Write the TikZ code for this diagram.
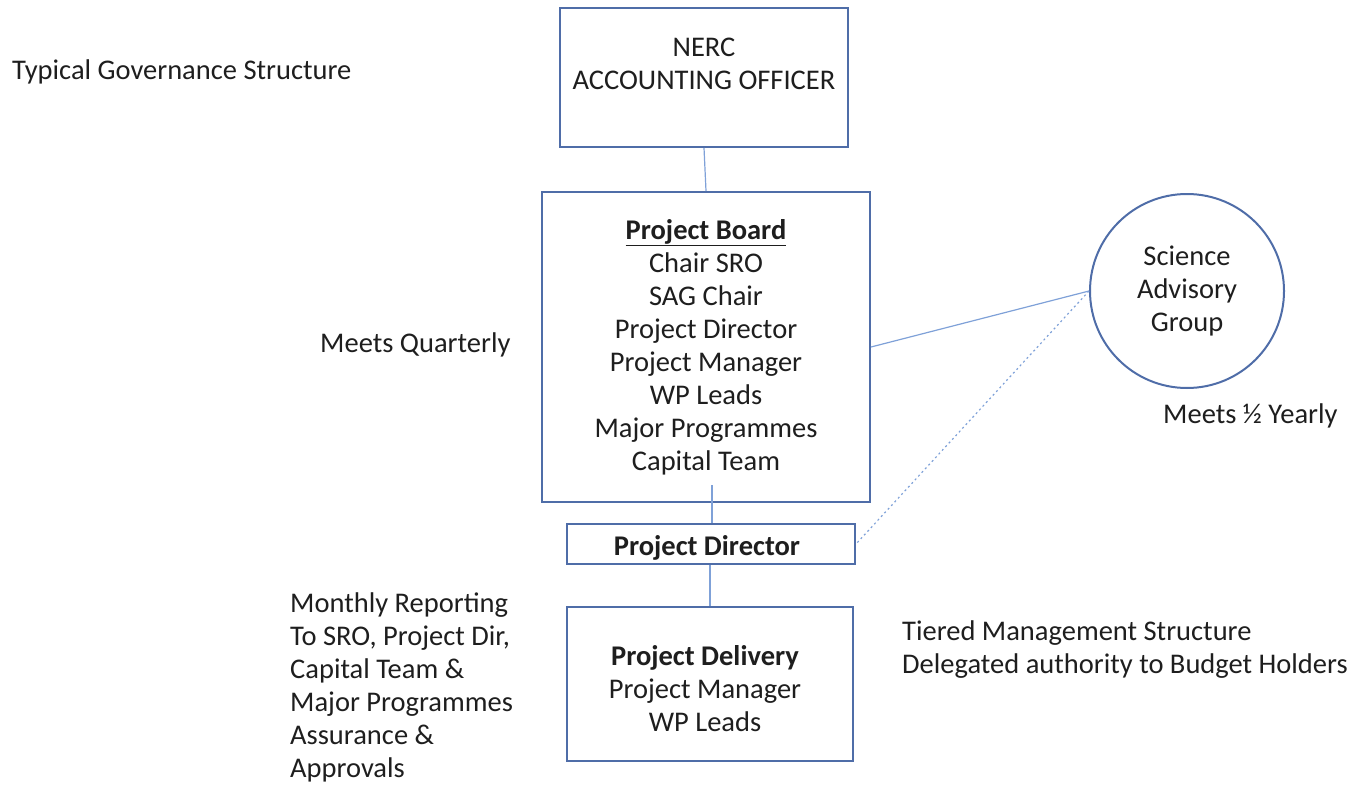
\documentclass[tikz,border=0pt]{standalone}
\usepackage{fontspec}
\setmainfont{Carlito}
\usetikzlibrary{calc}
\definecolor{boxblue}{HTML}{4F6DA8}
\definecolor{linkblue}{HTML}{7FA1D8}
\definecolor{ink}{HTML}{1E1E1E}
\begin{document}
\begin{tikzpicture}[x=1pt,y=-1pt,
  every node/.style={font=\fontsize{28.5}{33}\selectfont, text=ink},
  govbox/.style={draw=boxblue, line width=2pt, fill=white, inner sep=0pt, align=center},
  boxtext/.style={inner sep=0pt, align=center},
  link/.style={draw=linkblue, line width=1.2pt},
  dotlink/.style={draw=linkblue, line width=1.2pt, dash pattern=on 2pt off 3pt},
  note/.style={inner sep=0pt, align=left}]
\useasboundingbox (0,0) rectangle (1351,784);

% boxes (frames first, their text placed on top)
\node[govbox, minimum width=288pt, minimum height=139pt] (nerc) at (704,77.5) {};
\node[boxtext] (nerctxt) at (704,64) {NERC\\ACCOUNTING OFFICER};

\node[govbox, minimum width=328pt, minimum height=310pt] (board) at (706,347)
  {\underline{\textbf{Project Board}}\\Chair SRO\\SAG Chair\\Project Director\\Project Manager\\WP Leads\\Major Programmes\\Capital Team};

\node[govbox, minimum width=288pt, minimum height=40pt] (dir) at (711,544) {};
\node[boxtext] (dirtxt) at (707,547.5) {\textbf{Project Director}};

\node[govbox, minimum width=286pt, minimum height=154pt] (deliv) at (710,684) {};
\node[boxtext] (delivtxt) at (705,689) {\textbf{Project Delivery}\\Project Manager\\WP Leads};

\node[draw=boxblue, line width=2pt, circle, minimum size=194pt, inner sep=0pt, align=center] (sag) at (1187,291)
  {Science\\Advisory\\Group};

% connectors
\draw[link] (nerc.south) -- (board.north);
\coordinate (bdrop) at (712,485);
\draw[link] (bdrop) -- (dir.north -| bdrop);
\draw[link] (dir.south -| deliv.north) -- (deliv.north);
\draw[link] (board.east) -- (sag.west);
\draw[dotlink] (sag.west) -- (dir.east);

% annotations
\node[note, anchor=west] (title) at (12,72) {Typical Governance Structure};
\node[note, anchor=west] (quarterly) at (320,345) {Meets Quarterly};
\node[note, anchor=west] (halfyear) at (1163,416) {Meets ½ Yearly};
\node[note, anchor=north west] (monthly) at (290,593)
  {Monthly Reporting\\To SRO, Project Dir,\\Capital Team \&\\Major Programmes\\Assurance \&\\Approvals};
\node[note, anchor=north west] (tiered) at (902,621)
  {Tiered Management Structure\\Delegated authority to Budget Holders};
\end{tikzpicture}
\end{document}
